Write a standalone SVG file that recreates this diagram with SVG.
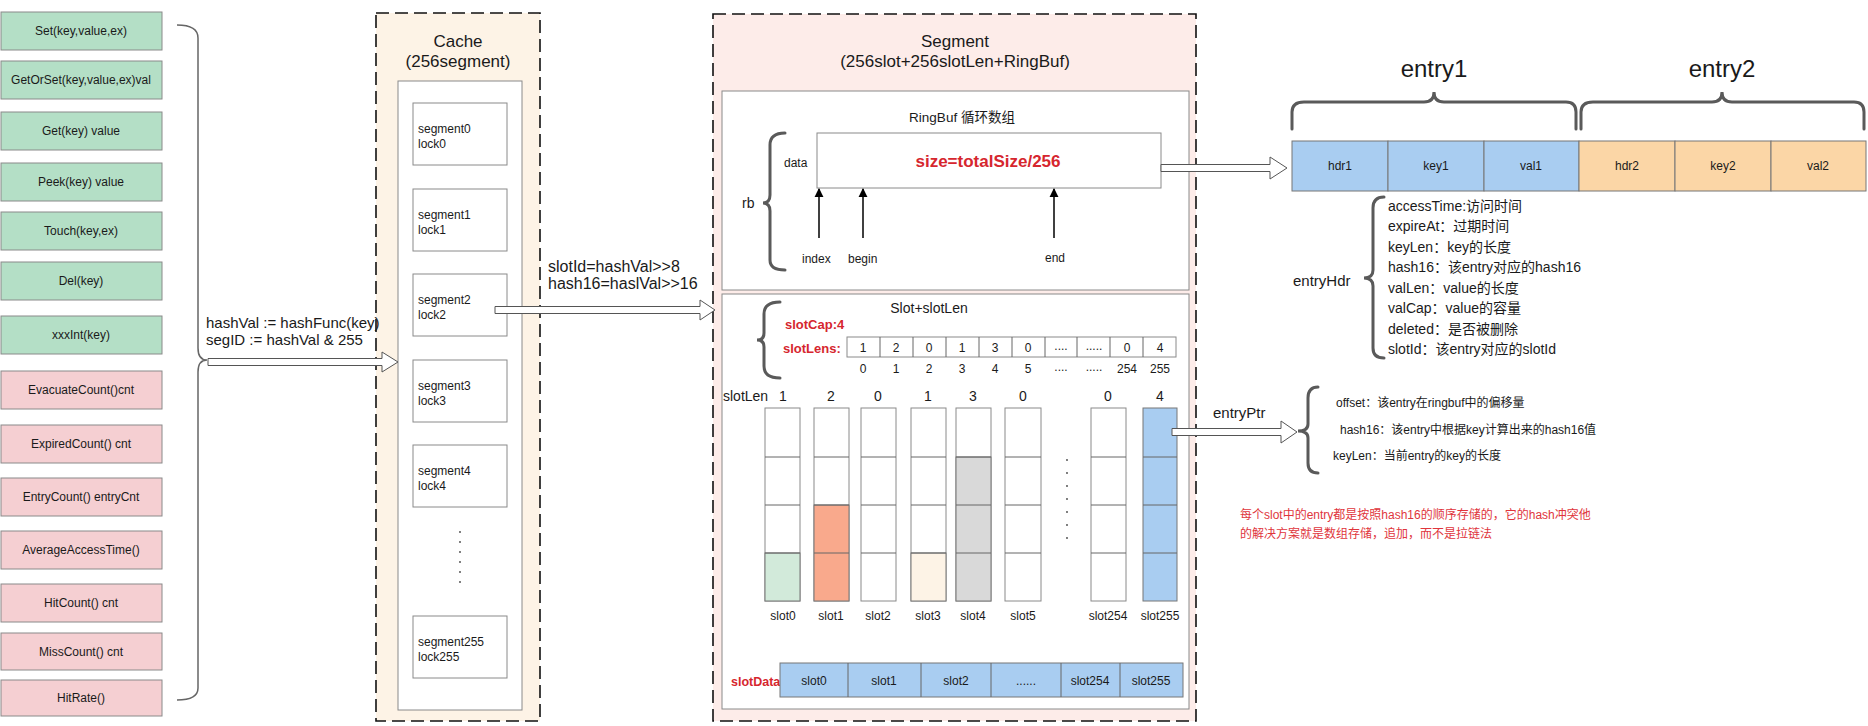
<svg xmlns="http://www.w3.org/2000/svg" width="1868" height="726" viewBox="0 0 1868 726">
<style>
text{font-family:"Liberation Sans","Noto Sans CJK SC",sans-serif;fill:#1a1a1a}
.api{font-size:12px;text-anchor:middle}
.g{fill:#b4dfc6;stroke:#8a8a8a;stroke-width:1}
.p{fill:#f5cfd2;stroke:#8a8a8a;stroke-width:1}
.box{fill:#fff;stroke:#8a8a8a;stroke-width:1}
.dash{stroke:#111;stroke-width:1.6;stroke-dasharray:13 6}
.title{font-size:17px;text-anchor:middle}
.sm{font-size:12px}
.md{font-size:14px}
.c{text-anchor:middle}
.red{fill:#d6262e;font-weight:bold}
.brace{fill:none;stroke:#5a5a5a;stroke-width:3;stroke-linecap:round}
.hollow{fill:#fff;stroke:#555;stroke-width:1}
.cell{stroke:#666;stroke-width:1}
.blue{fill:#a9cdf1;stroke:#777;stroke-width:1}
.orange{fill:#fbd6a6;stroke:#777;stroke-width:1}
.dot{fill:#444}
</style>
<defs>
<marker id="tri" viewBox="0 0 10 10" refX="9" refY="5" markerWidth="9" markerHeight="10" orient="auto" markerUnits="userSpaceOnUse">
<path d="M0,0 L10,5 L0,10 Z" fill="#000"/>
</marker>
</defs>
<rect width="1868" height="726" fill="#fff"/>

<g id="api-list">
<g id="api-set"><rect class="g" x="1" y="12" width="161" height="38"/><text class="api" x="81" y="35">Set(key,value,ex)</text></g>
<g id="api-getorset"><rect class="g" x="1" y="61" width="161" height="38"/><text class="api" x="81" y="84">GetOrSet(key,value,ex)val</text></g>
<g id="api-get"><rect class="g" x="1" y="112" width="161" height="38"/><text class="api" x="81" y="135">Get(key) value</text></g>
<g id="api-peek"><rect class="g" x="1" y="163" width="161" height="38"/><text class="api" x="81" y="186">Peek(key) value</text></g>
<g id="api-touch"><rect class="g" x="1" y="212" width="161" height="38"/><text class="api" x="81" y="235">Touch(key,ex)</text></g>
<g id="api-del"><rect class="g" x="1" y="262" width="161" height="38"/><text class="api" x="81" y="285">Del(key)</text></g>
<g id="api-xxxint"><rect class="g" x="1" y="316" width="161" height="38"/><text class="api" x="81" y="339">xxxInt(key)</text></g>
<g id="api-evacuate"><rect class="p" x="1" y="371" width="161" height="38"/><text class="api" x="81" y="394">EvacuateCount()cnt</text></g>
<g id="api-expired"><rect class="p" x="1" y="425" width="161" height="38"/><text class="api" x="81" y="448">ExpiredCount() cnt</text></g>
<g id="api-entrycount"><rect class="p" x="1" y="478" width="161" height="38"/><text class="api" x="81" y="501">EntryCount() entryCnt</text></g>
<g id="api-avg"><rect class="p" x="1" y="531" width="161" height="38"/><text class="api" x="81" y="554">AverageAccessTime()</text></g>
<g id="api-hitcount"><rect class="p" x="1" y="584" width="161" height="38"/><text class="api" x="81" y="607">HitCount() cnt</text></g>
<g id="api-misscount"><rect class="p" x="1" y="633" width="161" height="37"/><text class="api" x="81" y="656">MissCount() cnt</text></g>
<g id="api-hitrate"><rect class="p" x="1" y="680" width="161" height="36"/><text class="api" x="81" y="702">HitRate()</text></g>
<path id="api-brace" d="M177,25 Q198,25 198,38 L198,348 Q198,360 207,360 Q198,360 198,372 L198,688 Q198,700 177,700" fill="none" stroke="#666" stroke-width="1.5"/>
</g>

<g id="cache">
<rect x="376" y="13" width="164" height="708" fill="#fdf3e6"/>
<rect class="dash" x="376" y="13" width="164" height="708" fill="none"/>
<text class="title" x="458" y="47">Cache</text>
<text class="title" x="458" y="67">(256segment)</text>
<rect class="box" x="398" y="81" width="124" height="629"/>
<g id="seg0"><rect class="box" x="413" y="103" width="94" height="62"/><text class="sm" x="418" y="133">segment0</text><text class="sm" x="418" y="148">lock0</text></g>
<g id="seg1"><rect class="box" x="413" y="189" width="94" height="62"/><text class="sm" x="418" y="219">segment1</text><text class="sm" x="418" y="234">lock1</text></g>
<g id="seg2"><rect class="box" x="413" y="274" width="94" height="62"/><text class="sm" x="418" y="304">segment2</text><text class="sm" x="418" y="319">lock2</text></g>
<g id="seg3"><rect class="box" x="413" y="360" width="94" height="62"/><text class="sm" x="418" y="390">segment3</text><text class="sm" x="418" y="405">lock3</text></g>
<g id="seg4"><rect class="box" x="413" y="445" width="94" height="62"/><text class="sm" x="418" y="475">segment4</text><text class="sm" x="418" y="490">lock4</text></g>
<g id="seg-dots"><circle class="dot" cx="460" cy="532" r="0.9"/><circle class="dot" cx="460" cy="542" r="0.9"/><circle class="dot" cx="460" cy="552" r="0.9"/><circle class="dot" cx="460" cy="562" r="0.9"/><circle class="dot" cx="460" cy="572" r="0.9"/><circle class="dot" cx="460" cy="582" r="0.9"/></g>
<g id="seg255"><rect class="box" x="413" y="616" width="94" height="62"/><text class="sm" x="418" y="646">segment255</text><text class="sm" x="418" y="661">lock255</text></g>
</g>

<g id="segment">
<rect x="713" y="14" width="483" height="707" fill="#fdece9"/>
<rect class="dash" x="713" y="14" width="483" height="707" fill="none"/>
<text class="title" x="955" y="47">Segment</text>
<text class="title" x="955" y="67">(256slot+256slotLen+RingBuf)</text>

<g id="ringbuf">
<rect class="box" x="722" y="91" width="467" height="199"/>
<text class="c" x="962" y="122" style="font-size:13.5px">RingBuf 循环数组</text>
<rect class="box" x="817" y="133" width="344" height="55"/>
<text class="sm" x="784" y="167">data</text>
<text class="red c" x="988" y="167" style="font-size:17px">size=totalSize/256</text>
<path class="brace" d="M785,133 Q770,133 770,145 L770,195 Q770,203 763,203 Q770,203 770,211 L770,260 Q770,270 785,270"/>
<text class="md" x="742" y="208">rb</text>
<line x1="819" y1="238" x2="819" y2="189" stroke="#000" stroke-width="1.5" marker-end="url(#tri)"/>
<line x1="863" y1="238" x2="863" y2="189" stroke="#000" stroke-width="1.5" marker-end="url(#tri)"/>
<line x1="1054" y1="238" x2="1054" y2="189" stroke="#000" stroke-width="1.5" marker-end="url(#tri)"/>
<text class="sm" x="802" y="263">index</text>
<text class="sm" x="848" y="263">begin</text>
<text class="sm" x="1045" y="262">end</text>
</g>

<g id="slots">
<rect class="box" x="722" y="294" width="467" height="415"/>
<text class="c md" x="929" y="313">Slot+slotLen</text>
<path class="brace" d="M780,302 Q764,302 764,314 L764,333 Q764,340 757,340 Q764,340 764,347 L764,366 Q764,378 780,378"/>
<text class="red" x="785" y="329" style="font-size:13px">slotCap:4</text>
<text class="red" x="783" y="353" style="font-size:13px">slotLens:</text>
<g id="slotlens" class="sm">
<rect class="box" x="847" y="337" width="329" height="20"/>
<path class="cell" d="M880,337V357M913,337V357M946,337V357M979,337V357M1012,337V357M1045,337V357M1077,337V357M1110,337V357M1143,337V357"/>
<text class="c" x="863" y="352">1</text><text class="c" x="896" y="352">2</text><text class="c" x="929" y="352">0</text><text class="c" x="962" y="352">1</text><text class="c" x="995" y="352">3</text><text class="c" x="1028" y="352">0</text><text class="c" x="1061" y="350">....</text><text class="c" x="1094" y="350">.....</text><text class="c" x="1127" y="352">0</text><text class="c" x="1160" y="352">4</text>
<text class="c" x="863" y="373">0</text><text class="c" x="896" y="373">1</text><text class="c" x="929" y="373">2</text><text class="c" x="962" y="373">3</text><text class="c" x="995" y="373">4</text><text class="c" x="1028" y="373">5</text><text class="c" x="1061" y="371">....</text><text class="c" x="1094" y="371">.....</text><text class="c" x="1127" y="373">254</text><text class="c" x="1160" y="373">255</text>
</g>
<g id="slotlen-row" class="md">
<text x="723" y="401">slotLen</text>
<text class="c" x="783" y="401">1</text><text class="c" x="831" y="401">2</text><text class="c" x="878" y="401">0</text><text class="c" x="928" y="401">1</text><text class="c" x="973" y="401">3</text><text class="c" x="1023" y="401">0</text><text class="c" x="1108" y="401">0</text><text class="c" x="1160" y="401">4</text>
</g>
<g id="slot-columns">
<g id="slot0"><rect class="box" x="765" y="408" width="35" height="193"/><rect x="765" y="553" width="35" height="48" fill="#d2eada" stroke="#777"/><path class="cell" d="M765,457H800M765,505H800M765,553H800"/><text class="c sm" x="783" y="620">slot0</text></g>
<g id="slot1"><rect class="box" x="814" y="408" width="35" height="193"/><rect x="814" y="505" width="35" height="96" fill="#f9a98c" stroke="#777"/><path class="cell" d="M814,457H849M814,505H849M814,553H849"/><text class="c sm" x="831" y="620">slot1</text></g>
<g id="slot2"><rect class="box" x="861" y="408" width="35" height="193"/><path class="cell" d="M861,457H896M861,505H896M861,553H896"/><text class="c sm" x="878" y="620">slot2</text></g>
<g id="slot3"><rect class="box" x="911" y="408" width="35" height="193"/><rect x="911" y="553" width="35" height="48" fill="#fdf3e6" stroke="#777"/><path class="cell" d="M911,457H946M911,505H946M911,553H946"/><text class="c sm" x="928" y="620">slot3</text></g>
<g id="slot4"><rect class="box" x="956" y="408" width="35" height="193"/><rect x="956" y="457" width="35" height="144" fill="#d9d9d9" stroke="#777"/><path class="cell" d="M956,457H991M956,505H991M956,553H991"/><text class="c sm" x="973" y="620">slot4</text></g>
<g id="slot5"><rect class="box" x="1005" y="408" width="36" height="193"/><path class="cell" d="M1005,457H1041M1005,505H1041M1005,553H1041"/><text class="c sm" x="1023" y="620">slot5</text></g>
<g id="slot-dots"><circle class="dot" cx="1067" cy="460" r="0.9"/><circle class="dot" cx="1067" cy="473" r="0.9"/><circle class="dot" cx="1067" cy="486" r="0.9"/><circle class="dot" cx="1067" cy="499" r="0.9"/><circle class="dot" cx="1067" cy="512" r="0.9"/><circle class="dot" cx="1067" cy="525" r="0.9"/><circle class="dot" cx="1067" cy="538" r="0.9"/></g>
<g id="slot254"><rect class="box" x="1091" y="408" width="35" height="193"/><path class="cell" d="M1091,457H1126M1091,505H1126M1091,553H1126"/><text class="c sm" x="1108" y="620">slot254</text></g>
<g id="slot255"><rect class="blue" x="1143" y="408" width="34" height="193"/><path class="cell" d="M1143,457H1177M1143,505H1177M1143,553H1177"/><text class="c sm" x="1160" y="620">slot255</text></g>
</g>
<g id="slotdata">
<text class="red" x="731" y="686" style="font-size:12.5px">slotData</text>
<rect class="blue" x="780" y="663" width="403" height="34"/>
<path class="cell" d="M848,663V697M921,663V697M991,663V697M1061,663V697M1120,663V697"/>
<text class="c sm" x="814" y="685">slot0</text><text class="c sm" x="884" y="685">slot1</text><text class="c sm" x="956" y="685">slot2</text><text class="c sm" x="1026" y="685">......</text><text class="c sm" x="1090" y="685">slot254</text><text class="c sm" x="1151" y="685">slot255</text>
</g>
</g>
</g>

<g id="entries">
<g id="entry1">
<path class="brace" d="M1292,129 L1292,112 Q1292,102 1304,102 L1424,102 Q1434,102 1434,92 Q1434,102 1444,102 L1566,102 Q1576,102 1576,112 L1576,129"/>
<text class="c" x="1434" y="77" style="font-size:24px">entry1</text>
<rect class="blue" x="1292" y="141" width="96" height="50"/><text class="c sm" x="1340" y="170">hdr1</text>
<rect class="blue" x="1388" y="141" width="96" height="50"/><text class="c sm" x="1436" y="170">key1</text>
<rect class="blue" x="1484" y="141" width="95" height="50"/><text class="c sm" x="1531" y="170">val1</text>
</g>
<g id="entry2">
<path class="brace" d="M1581,129 L1581,112 Q1581,102 1593,102 L1712,102 Q1722,102 1722,92 Q1722,102 1732,102 L1854,102 Q1864,102 1864,112 L1864,129"/>
<text class="c" x="1722" y="77" style="font-size:24px">entry2</text>
<rect class="orange" x="1579" y="141" width="96" height="50"/><text class="c sm" x="1627" y="170">hdr2</text>
<rect class="orange" x="1675" y="141" width="96" height="50"/><text class="c sm" x="1723" y="170">key2</text>
<rect class="orange" x="1771" y="141" width="95" height="50"/><text class="c sm" x="1818" y="170">val2</text>
</g>
</g>

<g id="entryHdr">
<path class="brace" d="M1384,197 Q1373,197 1373,208 L1373,270 Q1373,278 1364,278 Q1373,278 1373,286 L1373,348 Q1373,358 1384,358"/>
<text x="1293" y="286" style="font-size:15px">entryHdr</text>
<g class="md">
<text x="1388" y="211">accessTime:访问时间</text>
<text x="1388" y="231">expireAt：过期时间</text>
<text x="1388" y="252">keyLen：key的长度</text>
<text x="1388" y="272">hash16：该entry对应的hash16</text>
<text x="1388" y="293">valLen：value的长度</text>
<text x="1388" y="313">valCap：value的容量</text>
<text x="1388" y="334">deleted：是否被删除</text>
<text x="1388" y="354">slotId：该entry对应的slotId</text>
</g>
</g>

<g id="entryPtr">
<path class="brace" d="M1318,387 Q1308,387 1308,398 L1308,424 Q1308,431 1298,431 Q1308,431 1308,438 L1308,463 Q1308,473 1318,473"/>
<text x="1213" y="418" style="font-size:15px">entryPtr</text>
<g class="sm">
<text x="1336" y="407">offset：该entry在ringbuf中的偏移量</text>
<text x="1340" y="434">hash16：该entry中根据key计算出来的hash16值</text>
<text x="1333" y="460">keyLen：当前entry的key的长度</text>
</g>
</g>

<g id="note">
<text class="sm" x="1240" y="519" style="fill:#e0353c">每个slot中的entry都是按照hash16的顺序存储的，它的hash冲突他</text>
<text class="sm" x="1240" y="538" style="fill:#e0353c">的解决方案就是数组存储，追加，而不是拉链法</text>
</g>

<g id="connectors">
<path class="hollow" d="M208,358.5 H382 V352 L398,362 L382,372 V365.5 H208 Z"/>
<text x="206" y="328" style="font-size:15px">hashVal := hashFunc(key)</text>
<text x="206" y="345" style="font-size:15px">segID := hashVal &amp; 255</text>
<path class="hollow" d="M495,306.5 H700 V300 L715,310 L700,320 V313.5 H495 Z"/>
<text x="548" y="272" style="font-size:16px">slotId=hashVal&gt;&gt;8</text>
<text x="548" y="289" style="font-size:16px">hash16=haslVal&gt;&gt;16</text>
<path class="hollow" d="M1161,164.5 H1270 V157 L1287,168 L1270,179 V171.5 H1161 Z"/>
<path class="hollow" d="M1172,428.5 H1281 V421 L1297,432 L1281,443 V435.5 H1172 Z"/>
</g>
</svg>
